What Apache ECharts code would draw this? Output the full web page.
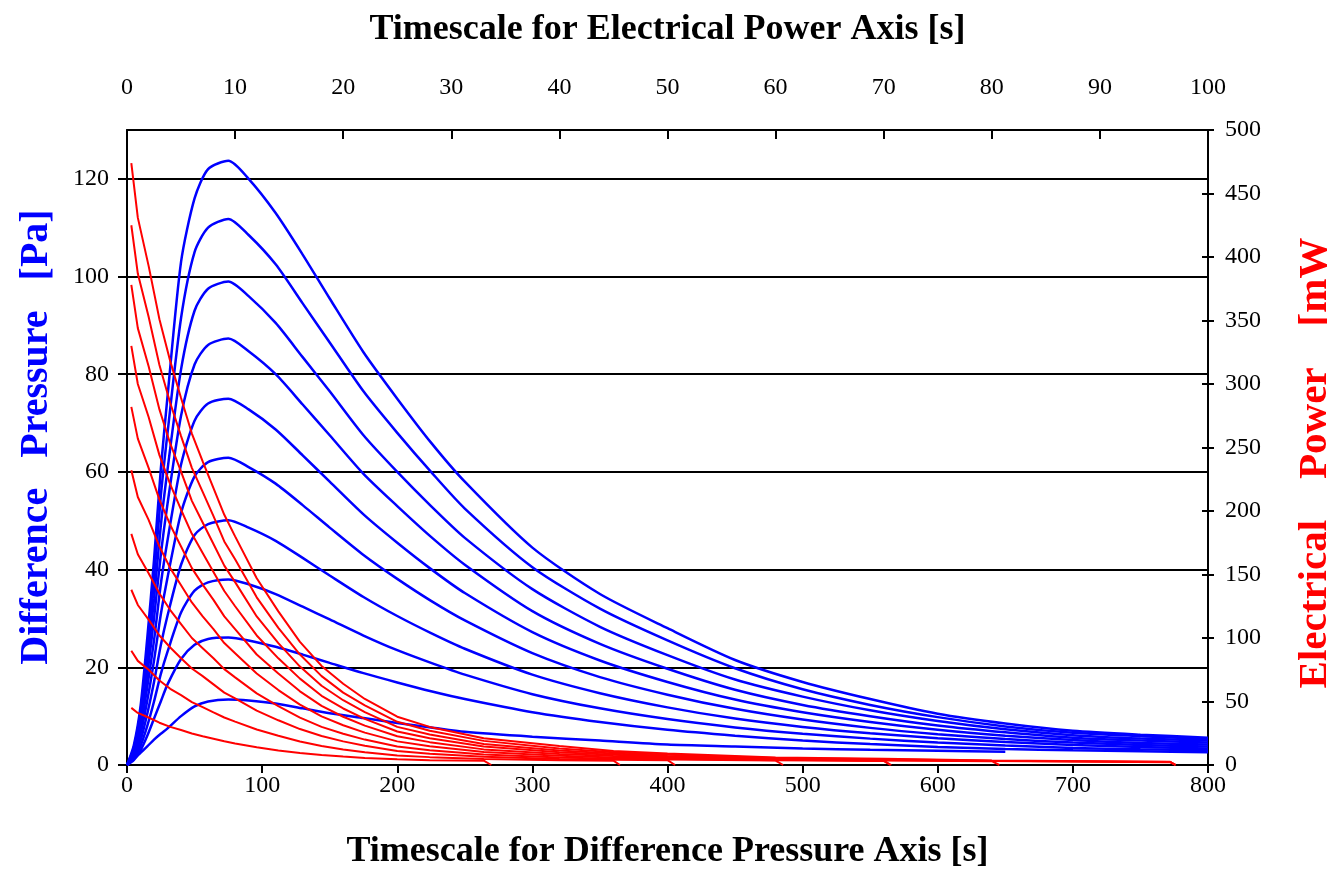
<!DOCTYPE html>
<html>
<head>
<meta charset="utf-8">
<script src="https://cdn.jsdelivr.net/npm/echarts@6/dist/echarts.min.js"></script>
<style>
  html, body { margin: 0; padding: 0; background: #fff; }
  #chart { width: 1327px; height: 872px; }
</style>
</head>
<body>
<div id="chart"></div>
<script>
// time points (s) for the difference pressure curves (bottom axis)
var pressTime = [0, 5, 10, 15, 20, 25, 30, 40, 50, 60, 75, 90, 110, 130, 150, 175, 200, 225, 250, 300, 350, 400, 450, 500, 550, 600, 650, 700, 750, 800];
// difference pressure [Pa], one array per run, smallest to largest
var press1 = [0, 1.2, 2.5, 3.8, 5.2, 6.4, 7.5, 10, 12, 13, 13.4, 13.2, 12.6, 11.6, 10.6, 9.6, 8.6, 7.7, 6.8, 5.8, 5.0, 4.2, 3.8, 3.4, 3.1, 2.9, 2.7];
var press2 = [0, 1, 3, 6, 9.5, 13, 16.5, 21.7, 24.6, 25.8, 26.1, 25.5, 24.2, 22.6, 20.9, 18.8, 16.9, 15.1, 13.5, 10.8, 8.8, 7.2, 6, 5, 4.3, 3.7, 3.3, 3, 2.8, 2.6];
var press3 = [0, 1.3, 3.9, 8, 13, 18.6, 23.2, 31.2, 35.7, 37.4, 38, 37, 35, 32.4, 29.8, 26.5, 23.5, 20.9, 18.5, 14.5, 11.6, 9.4, 7.7, 6.4, 5.4, 4.6, 4, 3.5, 3.2, 3.0];
var press4 = [0, 1.6, 5, 10.5, 17, 24.5, 30.6, 41, 47.1, 49.3, 50.1, 48.6, 45.9, 42.4, 38.8, 34.4, 30.5, 27, 23.8, 18.5, 14.7, 11.8, 9.5, 7.8, 6.5, 5.5, 4.7, 4.1, 3.7, 3.4];
var press5 = [0, 2, 6.3, 13.2, 21.4, 30.8, 38.4, 51.6, 59.1, 62, 62.9, 61, 57.6, 53.2, 48.6, 43, 38.1, 33.6, 29.6, 22.9, 18, 14.4, 11.5, 9.3, 7.6, 6.3, 5.3, 4.6, 4.1, 3.8];
var press6 = [0, 2.3, 7.5, 16, 25.5, 37, 46, 61.5, 70.5, 74, 75, 72.8, 68.7, 63.4, 58, 51.3, 45.5, 40.1, 35.2, 27.2, 21.4, 17, 13.4, 10.8, 8.8, 7.2, 6, 5.1, 4.5, 4.2];
var press7 = [0, 2.7, 8.8, 18.5, 30, 43, 53.5, 71.5, 82, 86, 87.3, 84.7, 80, 73.8, 67.5, 59.6, 53, 46.7, 41, 31.5, 24.8, 19.7, 15.4, 12.3, 10, 8.1, 6.7, 5.6, 5.0, 4.6];
var press8 = [0, 3, 10, 21, 34, 49, 60.5, 81, 93, 97.5, 99, 96, 90.5, 83.5, 76.5, 67.5, 60, 53, 46.5, 36, 28.3, 22.5, 17.5, 14, 11.2, 9, 7.3, 6.1, 5.4, 5.0];
var press9 = [0, 3.5, 11, 23.5, 38, 55, 68, 91.5, 105, 110, 111.8, 108.5, 102.5, 94.5, 86.5, 76.5, 68, 60, 52.5, 40.5, 32, 25.5, 19.8, 15.5, 12.3, 9.8, 7.9, 6.6, 5.9, 5.3];
var press10 = [0, 4, 12, 26, 42, 60.5, 75.5, 103, 116, 122, 123.7, 120, 113, 104.5, 95.5, 84.5, 75, 66, 58, 44.5, 35, 28, 21.5, 17, 13.5, 10.5, 8.5, 7, 6.2, 5.6];
var pressRuns = [press1, press2, press3, press4, press5, press6, press7, press8, press9, press10];

// time points (s) for the electrical power curves (top axis)
var powerTime = [0.4, 1, 2, 3, 4, 5, 6, 7, 8, 9, 10, 12, 14, 16, 18, 20, 22, 25, 28, 33, 40, 45, 50, 60, 70, 80, 90, 96.5];
// electrical power [mW], smallest to largest
var power1 = [45, 41, 37.4, 33.3, 30, 27.5, 24.8, 22.7, 20.7, 18.7, 17, 14, 11.5, 9.5, 7.8, 6.6, 5.6, 4.5, 3.8, 3.4];
var power2 = [90, 82, 75, 66.6, 60, 55, 49.5, 45.5, 41.4, 37.4, 34.2, 28, 23, 18.5, 14.9, 12.2, 10, 7.5, 6.2, 4.8, 3.8, 3.4];
var power3 = [138, 126, 114.5, 102, 92.5, 84, 76, 70, 63.5, 57, 52.4, 42.8, 35.2, 28.3, 22.8, 18.6, 15.2, 11, 8.8, 6.4, 4.8, 4.2, 3.8];
var power4 = [182, 166, 151, 135, 122, 111, 100, 92, 84, 75.5, 69, 56.4, 46.4, 37.3, 30, 24.6, 20, 14.6, 11.6, 8.2, 6, 5, 4.3, 3.5];
var power5 = [232, 211, 193, 172, 155, 141.5, 128, 117, 107, 96, 88, 72, 59, 47.5, 38.3, 31.3, 25.5, 18.6, 14.8, 10.2, 7.3, 6, 5, 3.8, 3.2];
var power6 = [282, 257, 234, 209, 189, 172, 155, 142, 130, 117, 107, 87, 72, 58, 46.5, 38, 31, 22.6, 18, 12.3, 8.6, 7, 5.6, 4.2, 3.4];
var power7 = [330, 300, 274, 244, 221, 201, 182, 167, 152, 137, 125, 102, 84, 68, 54.5, 44.5, 36.3, 26.4, 21, 14.5, 10, 8, 6.3, 4.6, 3.6, 3];
var power8 = [378, 344, 314, 280, 253, 231, 208, 191, 174, 157, 144, 117, 96, 77.5, 62.4, 51, 41.6, 30, 24, 16.5, 11.5, 9, 7, 5, 4, 3.2, 2.6, 2.2];
var power9 = [425, 387, 353, 315, 285, 259, 234, 215, 196, 176, 162, 132, 108, 87, 70, 57, 47, 34, 27, 19, 13, 10, 8, 5.5, 4.5, 3.3, 2.8, 2.4];
var power10 = [474, 431, 393, 351, 318, 289, 261, 239, 218, 197, 180, 147, 121, 97, 78, 64, 52, 38, 30, 21, 15, 11, 9, 6, 5, 3.5, 3, 2.5];
var powerRuns = [power1, power2, power3, power4, power5, power6, power7, power8, power9, power10];
// time where each power run is switched off (drops to 0)
var powerEnd = [33.7, 45.6, 50.7, 60.7, 70.6, 70.7, 80.7, 97, 97, 97];

var serif = "'Liberation Serif', 'Times New Roman', serif";

var myChart = echarts.init(document.getElementById("chart"), null, { renderer: "canvas" });

var series = [];
pressRuns.forEach(function (run, k) {
  var data = [];
  for (var i = 0; i < run.length; i++) {
    data.push([pressTime[i], run[i]]);
  }
  series.push({
    name: "dp" + (k + 1),
    type: "line",
    xAxisIndex: 0,
    yAxisIndex: 0,
    data: data,
    symbol: "none",
    smooth: 0.25,
    lineStyle: { color: "#0000ff", width: 2.5 },
    animation: false,
  });
});
powerRuns.forEach(function (run, k) {
  var data = [];
  for (var i = 0; i < run.length; i++) {
    data.push([powerTime[i], run[i]]);
  }
  data.push([powerEnd[k], 0]);
  series.push({
    name: "pw" + (k + 1),
    type: "line",
    xAxisIndex: 1,
    yAxisIndex: 1,
    data: data,
    symbol: "none",
    lineStyle: { color: "#ff0000", width: 2 },
    animation: false,
  });
});

// onZero off everywhere, otherwise the second pair of axes jumps to the zero of the first
var blackLine = { show: true, onZero: false, lineStyle: { color: "#000", width: 2 } };
var tickStyle = { color: "#000", width: 2 };

var option = {
  animation: false,
  backgroundColor: "#fff",
  // fixed plot box, v6 would otherwise shrink it to fit the axis names
  grid: { left: 127, right: 119, top: 130, bottom: 107, containLabel: false, outerBoundsMode: "none" },
  xAxis: [
    {
      type: "value",
      position: "bottom",
      min: 0,
      max: 800,
      interval: 100,
      axisLine: blackLine,
      axisTick: { show: true, inside: false, length: 8, lineStyle: tickStyle },
      axisLabel: { fontSize: 24, fontFamily: serif, color: "#000", margin: 9 },
      splitLine: { show: false },
      name: "Timescale for Difference Pressure Axis [s]",
      nameLocation: "middle",
      nameGap: 69,
      nameTextStyle: { fontSize: 36, fontWeight: "bold", fontFamily: serif, color: "#000" },
    },
    {
      type: "value",
      position: "top",
      min: 0,
      max: 100,
      interval: 10,
      axisLine: blackLine,
      axisTick: { show: true, inside: true, length: 9, lineStyle: tickStyle },
      axisLabel: { fontSize: 24, fontFamily: serif, color: "#000", margin: 30 },
      splitLine: { show: false },
      name: "Timescale for Electrical Power Axis [s]",
      nameLocation: "middle",
      nameGap: 82,
      nameTextStyle: { fontSize: 36, fontWeight: "bold", fontFamily: serif, color: "#000" },
    },
  ],
  yAxis: [
    {
      type: "value",
      position: "left",
      min: 0,
      max: 130,
      interval: 20,
      axisLine: blackLine,
      axisTick: { show: true, inside: false, length: 9, lineStyle: tickStyle },
      axisLabel: { fontSize: 24, fontFamily: serif, color: "#000", margin: 18, showMaxLabel: false },
      splitLine: { show: true, lineStyle: { color: "#000", width: 2 } },
    },
    {
      type: "value",
      position: "right",
      min: 0,
      max: 500,
      interval: 50,
      axisLine: blackLine,
      axisTick: { show: true, inside: false, length: 6, lineStyle: tickStyle },
      axisLabel: { fontSize: 24, fontFamily: serif, color: "#000", margin: 17 },
      splitLine: { show: false },
    },
    {
      // inner half of the crossing ticks on the right axis
      type: "value",
      position: "right",
      min: 0,
      max: 500,
      interval: 50,
      axisLine: { show: false, onZero: false },
      axisTick: { show: true, inside: true, length: 6, lineStyle: tickStyle },
      axisLabel: { show: false },
      splitLine: { show: false },
    },
  ],
  graphic: [
    {
      type: "text",
      x: 37,
      y: 437,
      rotation: Math.PI / 2,
      style: {
        text: "Difference   Pressure   [Pa]",
        font: "bold 40px " + serif,
        fill: "#0000ff",
        align: "center",
        verticalAlign: "middle",
      },
    },
    {
      type: "text",
      x: 1315,
      y: 463,
      rotation: Math.PI / 2,
      style: {
        text: "Electrical    Power    [mW",
        font: "bold 41px " + serif,
        fill: "#ff0000",
        align: "center",
        verticalAlign: "middle",
      },
    },
  ],
  series: series,
};

myChart.setOption(option);
</script>
</body>
</html>
